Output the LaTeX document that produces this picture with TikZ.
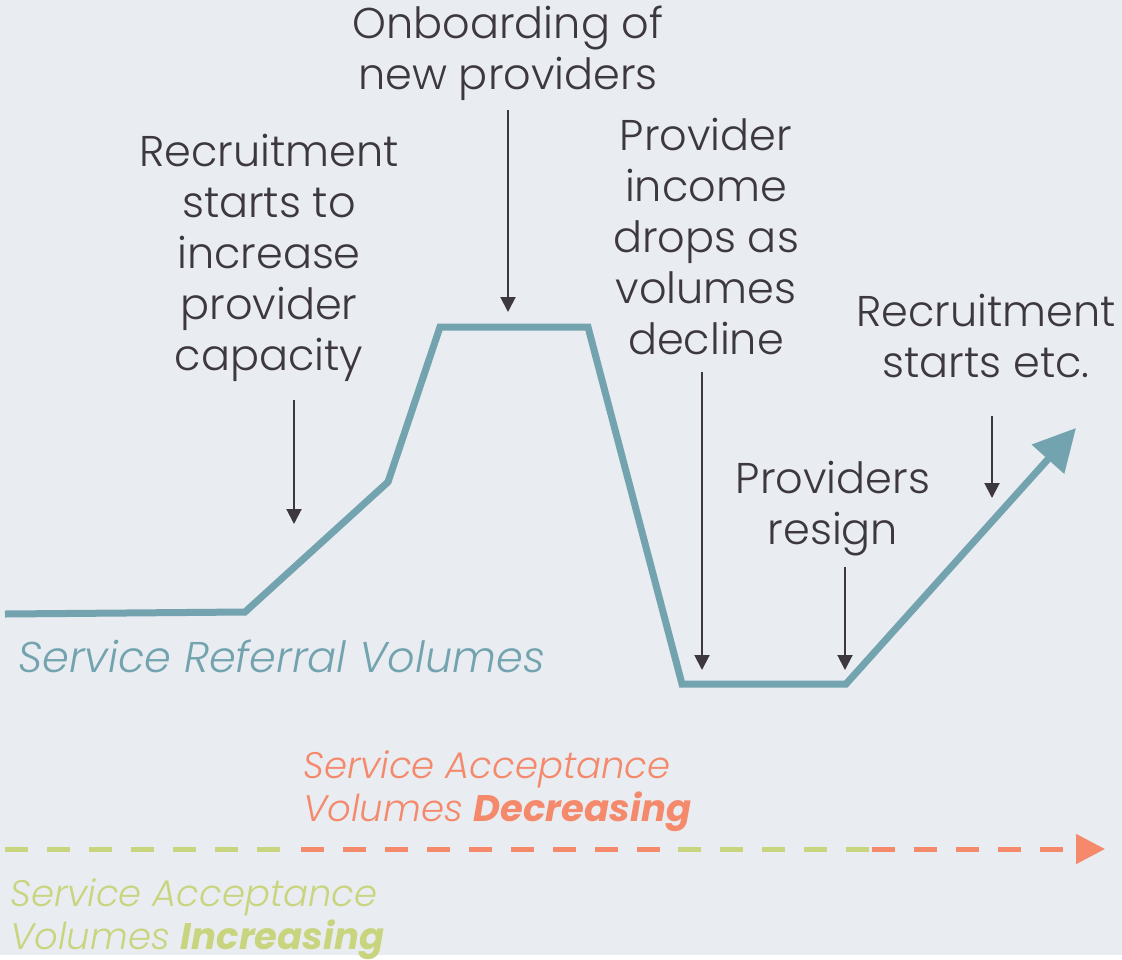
\documentclass[tikz,border=0pt]{standalone}
\usepackage{fontspec}
\setmainfont{Poppins Light}[
  ItalicFont={Poppins Light Italic},
  BoldFont={Poppins Bold},
  BoldItalicFont={Poppins Bold Italic}]
\usetikzlibrary{arrows.meta}

\definecolor{paper}{HTML}{E9ECF1}
\definecolor{ink}{HTML}{3D3740}
\definecolor{teal}{HTML}{72A3AE}
\definecolor{salmon}{HTML}{F4896B}
\definecolor{lime}{HTML}{C9D57E}

\tikzset{
  note/.style={text=ink, align=center, inner sep=0pt, anchor=north,
    font=\fontsize{43}{51}\selectfont},
  pointer/.style={draw=ink, line width=2pt, -{Triangle[length=15pt,width=15pt]}},
  referral/.style={draw=teal, line width=7pt, -{Triangle[length=42pt,width=42pt]}},
  accept/.style={line width=5pt, dash pattern=on 23pt off 19pt},
  keylabel/.style={align=left, inner sep=0pt, anchor=north west}
}

\begin{document}
\begin{tikzpicture}[x=1pt,y=-1pt]
  \fill[paper] (0,0) rectangle (1122,955);

  % referral volumes curve
  \coordinate (v0) at (5,614);
  \coordinate (v1) at (245,612);
  \coordinate (v2) at (388,482);
  \coordinate (v3) at (440,327);
  \coordinate (v4) at (588,327);
  \coordinate (v5) at (682,684);
  \coordinate (v6) at (846,684);
  \coordinate (v7) at (1076,428);
  \draw[referral] (v0) -- (v1) -- (v2) -- (v3) -- (v4) -- (v5) -- (v6) -- (v7);

  % notes
  \node[note] (onboard) at (508,6) {Onboarding of\\new providers};
  \node[note] (recruit) at (269,134) {Recruitment\\starts to\\increase\\provider\\capacity};
  \node[note] (income) at (706,118) {Provider\\income\\drops as\\volumes\\decline};
  \node[note] (resign) at (833,461) {Providers\\resign};
  \node[note] (restart) at (986,294) {Recruitment\\starts etc.};

  \coordinate (onboard-a) at (508,110);  \coordinate (onboard-b) at (508,312);
  \coordinate (recruit-a) at (294,400);  \coordinate (recruit-b) at (294,524);
  \coordinate (income-a) at (702,372);   \coordinate (income-b) at (702,670);
  \coordinate (resign-a) at (845,567);   \coordinate (resign-b) at (845,670);
  \coordinate (restart-a) at (992,416);  \coordinate (restart-b) at (992,498);
  \path
    (onboard-a) edge[pointer] (onboard-b)
    (recruit-a) edge[pointer] (recruit-b)
    (income-a) edge[pointer] (income-b)
    (resign-a) edge[pointer] (resign-b)
    (restart-a) edge[pointer] (restart-b);

  \node[keylabel, text=teal, font=\fontsize{43}{51}\selectfont\itshape]
    (referral) at (18,640) {Service Referral Volumes};

  % acceptance line
  \coordinate (acc0) at (5,849);   \coordinate (acc1) at (292,849);
  \coordinate (acc2) at (301,849); \coordinate (acc3) at (676,849);
  \coordinate (acc4) at (678,849); \coordinate (acc5) at (870,849);
  \coordinate (acc6) at (872,849); \coordinate (acc7) at (1105,849);
  \draw[accept, lime] (acc0) -- (acc1);
  \draw[accept, salmon] (acc2) -- (acc3);
  \draw[accept, lime] (acc4) -- (acc5);
  \draw[accept, salmon, -{Triangle[length=29pt,width=29pt]}] (acc6) -- (acc7);

  \node[keylabel, text=salmon, font=\fontsize{37}{43}\selectfont\itshape]
    (decrease) at (303,750) {Service Acceptance\\Volumes \textbf{Decreasing}};
  \node[keylabel, text=lime, font=\fontsize{37}{43}\selectfont\itshape]
    (increase) at (10,878) {Service Acceptance\\Volumes \textbf{Increasing}};
\end{tikzpicture}
\end{document}
